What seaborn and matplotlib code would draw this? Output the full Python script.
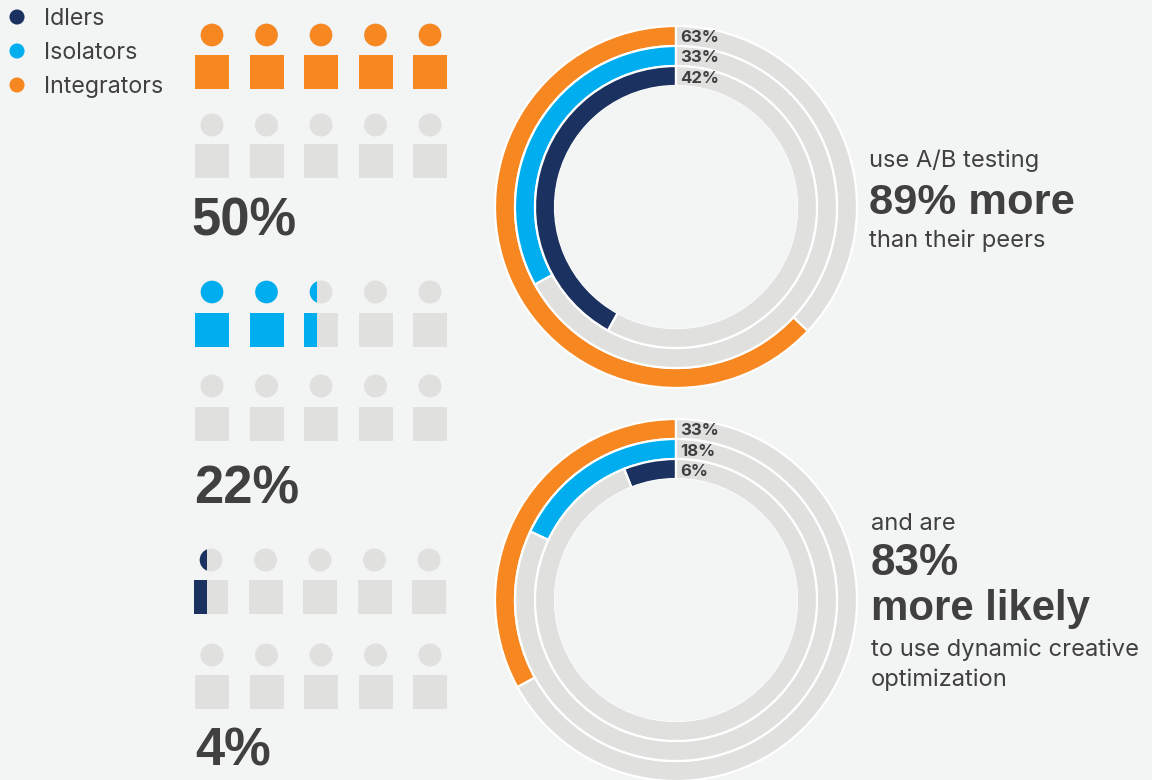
import matplotlib
matplotlib.use("Agg")
import matplotlib.pyplot as plt
from matplotlib.patches import Circle, Rectangle
import pandas as pd
import seaborn as sns

W, H = 1152, 780
BG = "#F3F5F5"
GREY = "#E0E0DE"
INK = "#404041"
NAVY = "#1B3160"
BLUE = "#00AEEF"
ORANGE = "#F78721"

segments = ["Idlers", "Isolators", "Integrators"]
segment_colors = [NAVY, BLUE, ORANGE]

# People icons out of ten: share label, filled icons, colour
share_labels = ["50%", "22%", "4%"]
filled_icons = [5.0, 2.38, 0.38]
share_colors = [ORANGE, BLUE, NAVY]

# Ring percentages, outer ring to inner ring
ab_testing = [63, 33, 42]
dynamic_creative = [33, 18, 6]
ring_colors = [ORANGE, BLUE, NAVY]

sns.set_theme(style="white", rc={"figure.facecolor": BG, "axes.facecolor": BG, "savefig.facecolor": BG})
plt.rcParams["font.family"] = ["Inter", "Liberation Sans", "DejaVu Sans"]

fig = plt.figure(figsize=(W / 100, H / 100), dpi=100)
ax = fig.add_axes([0, 0, 1, 1])


def px(size):
    return size * 0.72


# Legend
legend_df = pd.DataFrame({"segment": segments, "x": [17] * 3, "y": [17, 51, 85]})
sns.scatterplot(data=legend_df, x="x", y="y", hue="segment", palette=segment_colors,
                s=118, linewidth=0, legend=False, ax=ax, zorder=3)
ax.set_xlim(0, W)
ax.set_ylim(H, 0)
ax.axis("off")
for _, row in legend_df.iterrows():
    ax.text(44.5, row.y + 8, row.segment, color=INK, fontsize=px(23.2), va="baseline", ha="left")


def person(x, y_body, head_gap, fill, color):
    """One icon: a head and a square body, coloured up to the fill fraction."""
    size = 34
    cx = x + size / 2
    cy = y_body - head_gap
    ax.add_patch(Circle((cx, cy), 11.5, fc=GREY, ec="none", zorder=1))
    ax.add_patch(Rectangle((x, y_body), size, size, fc=GREY, ec="none", zorder=1))
    if fill <= 0:
        return
    clip = Rectangle((x - 1, y_body - 40), size * fill + 1, 80, transform=ax.transData)
    head = Circle((cx, cy), 11.3, fc=color, ec="none", zorder=2)
    ax.add_patch(head)
    head.set_clip_path(clip)
    ax.add_patch(Rectangle((x, y_body), size * fill, size, fc=color, ec="none", zorder=2))


def people_block(rows, filled, color):
    remaining = filled
    for x0, y_body, head_gap in rows:
        for i in range(5):
            fill = min(max(remaining, 0), 1)
            person(x0 + i * 54.5, y_body, head_gap, fill, color)
            remaining -= 1


people_block([(195, 55, 20), (195, 144, 19)], filled_icons[0], share_colors[0])
people_block([(195, 313, 21), (195, 407, 21)], filled_icons[1], share_colors[1])
people_block([(194, 580, 20), (195, 675, 20)], filled_icons[2], share_colors[2])

for label, x, y in zip(share_labels, [191.5, 194.5, 195], [235, 503, 765]):
    ax.text(x, y, label, color=INK, fontsize=px(52.5), fontweight="bold", va="baseline", ha="left",
            family=["Liberation Sans"])


def rings(cx, cy, values):
    radius = 181
    ring_ax = fig.add_axes([(cx - radius) / W, 1 - (cy + radius) / H, 2 * radius / W, 2 * radius / H])
    ring_ax.patch.set_alpha(0)
    for k, (value, color) in enumerate(zip(values, ring_colors)):
        ring_ax.pie([value, 100 - value], colors=[color, GREY], radius=radius - k * 20,
                    startangle=90, counterclock=True,
                    wedgeprops={"width": 20, "edgecolor": "white", "linewidth": 1.6})
    # The hole shows the page colour right up to the inner ring
    ring_ax.add_patch(Circle((0, 0), radius - 59.5, fc=BG, ec="none", zorder=4))
    ring_ax.set_xlim(-radius, radius)
    ring_ax.set_ylim(-radius, radius)
    ring_ax.axis("off")
    for k, value in enumerate(values):
        ring_ax.text(4, radius - 16 - k * 20.5, f"{value}%", color=INK, fontsize=px(16.8),
                     fontweight="bold", va="baseline", ha="left", zorder=5)


rings(676, 207, ab_testing)
rings(676, 600, dynamic_creative)

# Callouts beside the rings
BODY = px(23.7)
ax.text(869, 167, "use A/B testing", color=INK, fontsize=BODY, va="baseline")
ax.text(869, 214, "89% more", color=INK, fontsize=px(43.5), fontweight="bold", va="baseline",
        family=["Liberation Sans"])
ax.text(869, 247, "than their peers", color=INK, fontsize=BODY, va="baseline")
ax.text(871, 530, "and are", color=INK, fontsize=BODY, va="baseline")
ax.text(871, 575, "83%", color=INK, fontsize=px(44), fontweight="bold", va="baseline",
        family=["Liberation Sans"])
ax.text(871, 620, "more likely", color=INK, fontsize=px(42), fontweight="bold", va="baseline",
        family=["Liberation Sans"])
ax.text(871, 656, "to use dynamic creative", color=INK, fontsize=BODY, va="baseline")
ax.text(871, 686, "optimization", color=INK, fontsize=BODY, va="baseline")

fig.savefig("out.png", dpi=100)
